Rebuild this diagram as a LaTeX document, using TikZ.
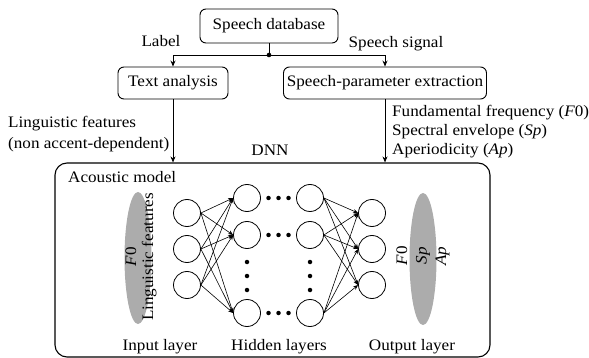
\documentclass[tikz,border=0pt]{standalone}
\usepackage{fontspec}
\setmainfont{Liberation Serif}[FakeStretch=1.07]
\usetikzlibrary{arrows.meta,shapes.geometric,calc}
\begin{document}
\begin{tikzpicture}[x=1pt,y=-1pt,
  box/.style={draw,rounded corners=6pt,line width=0.9pt,inner sep=0pt,font=\fontsize{16}{19}\selectfont},
  txt/.style={font=\fontsize{16}{19}\selectfont,inner sep=0pt},
  neuron/.style={draw,circle,minimum size=27pt,inner sep=0pt,line width=0.8pt},
  conn/.style={line width=0.6pt,-{Stealth[length=5pt,width=4pt]}},
  mainarrow/.style={line width=0.8pt,-{Stealth[length=6pt,width=5pt]}},
  blob/.style={ellipse,fill=gray!65,minimum width=27pt,minimum height=132pt,inner sep=0pt},
  dotsty/.style={circle,fill=black,inner sep=0pt,minimum size=4.5pt},
]
\useasboundingbox (0,0) rectangle (589,358);

% top boxes
\node[box,minimum width=138pt,minimum height=34pt] (db) at (269,26) {Speech database};
\node[box,minimum width=110pt,minimum height=32pt] (ta) at (173,83) {Text analysis};
\node[box,minimum width=203pt,minimum height=32pt] (sp) at (385,83) {Speech-parameter extraction};
\node[draw,rounded corners=12pt,line width=1.1pt,minimum width=435pt,minimum height=194pt,inner sep=0pt] (am) at (272.5,260) {};

\coordinate (j) at (269,55);
\draw[line width=0.8pt] (db.south) -- (j);
\fill (j) circle (2.3pt);
\draw[mainarrow] (j) -| (ta.north);
\draw[mainarrow] (j) -| (sp.north);
\draw[mainarrow] (ta.south) -- (ta.south |- am.north);
\draw[mainarrow] (sp.south) -- (sp.south |- am.north);

\node[txt,anchor=base] (lbl) at (161,47) {Label};
\node[txt,anchor=base] (sig) at (396,48) {Speech signal};
\node[txt,anchor=base west] (lf1) at (8,128) {Linguistic features};
\node[txt,anchor=base west] (lf2) at (8,149) {(non accent-dependent)};
\node[txt,anchor=base] (dnn) at (270,156) {DNN};
\node[txt,anchor=base west] (p1) at (392,117) {Fundamental frequency (\textit{F}0)};
\node[txt,anchor=base west] (p2) at (392,136) {Spectral envelope (\textit{Sp})};
\node[txt,anchor=base west] (p3) at (392,155) {Aperiodicity (\textit{Ap})};

\node[txt,anchor=base west] (amlabel) at (68,183) {Acoustic model};

% blobs
\node[blob] (bl) at (138,258) {};
\node[txt,rotate=90,align=center,font=\fontsize{16}{17}\selectfont] (bltext) at (141,257) {\textit{F}0\\Linguistic features};
\node[blob] (br) at (423,259) {};
\node[txt,rotate=90,align=center,font=\fontsize{16}{19.5}\selectfont] (brtext) at (423,256) {\textit{F}0\\\textit{Sp}\\\textit{Ap}};

% neurons
\foreach \i/\y in {1/213,2/249,3/285} {
  \node[neuron] (in\i) at (187,\y) {};
  \node[neuron] (out\i) at (372,\y) {};
}
\foreach \i/\y in {1/198,2/235,3/313} {
  \node[neuron] (ha\i) at (247,\y) {};
  \node[neuron] (hb\i) at (310,\y) {};
}
% horizontal dots
\foreach \i in {1,2,3} {
  \foreach \dx [count=\k] in {-10,0,10} {
    \node[dotsty] (hd\i\k) at ($(ha\i)!0.5!(hb\i)+(\dx,0)$) {};
  }
}
% vertical dots
\foreach \y [count=\k] in {262,276,290} {
  \node[dotsty] (va\k) at (247,\y) {};
  \node[dotsty] (vb\k) at (310,\y) {};
}

% connections
\foreach \i in {1,2,3} {
  \foreach \j in {1,2,3} {
    \draw[conn] (in\i.east) -- (ha\j.west);
    \draw[conn] (hb\i.east) -- (out\j.west);
  }
}

\node[txt,anchor=base] (il) at (160,350) {Input layer};
\node[txt,anchor=base] (hl) at (279,350) {Hidden layers};
\node[txt,anchor=base] (ol) at (412,350) {Output layer};
\end{tikzpicture}
\end{document}
